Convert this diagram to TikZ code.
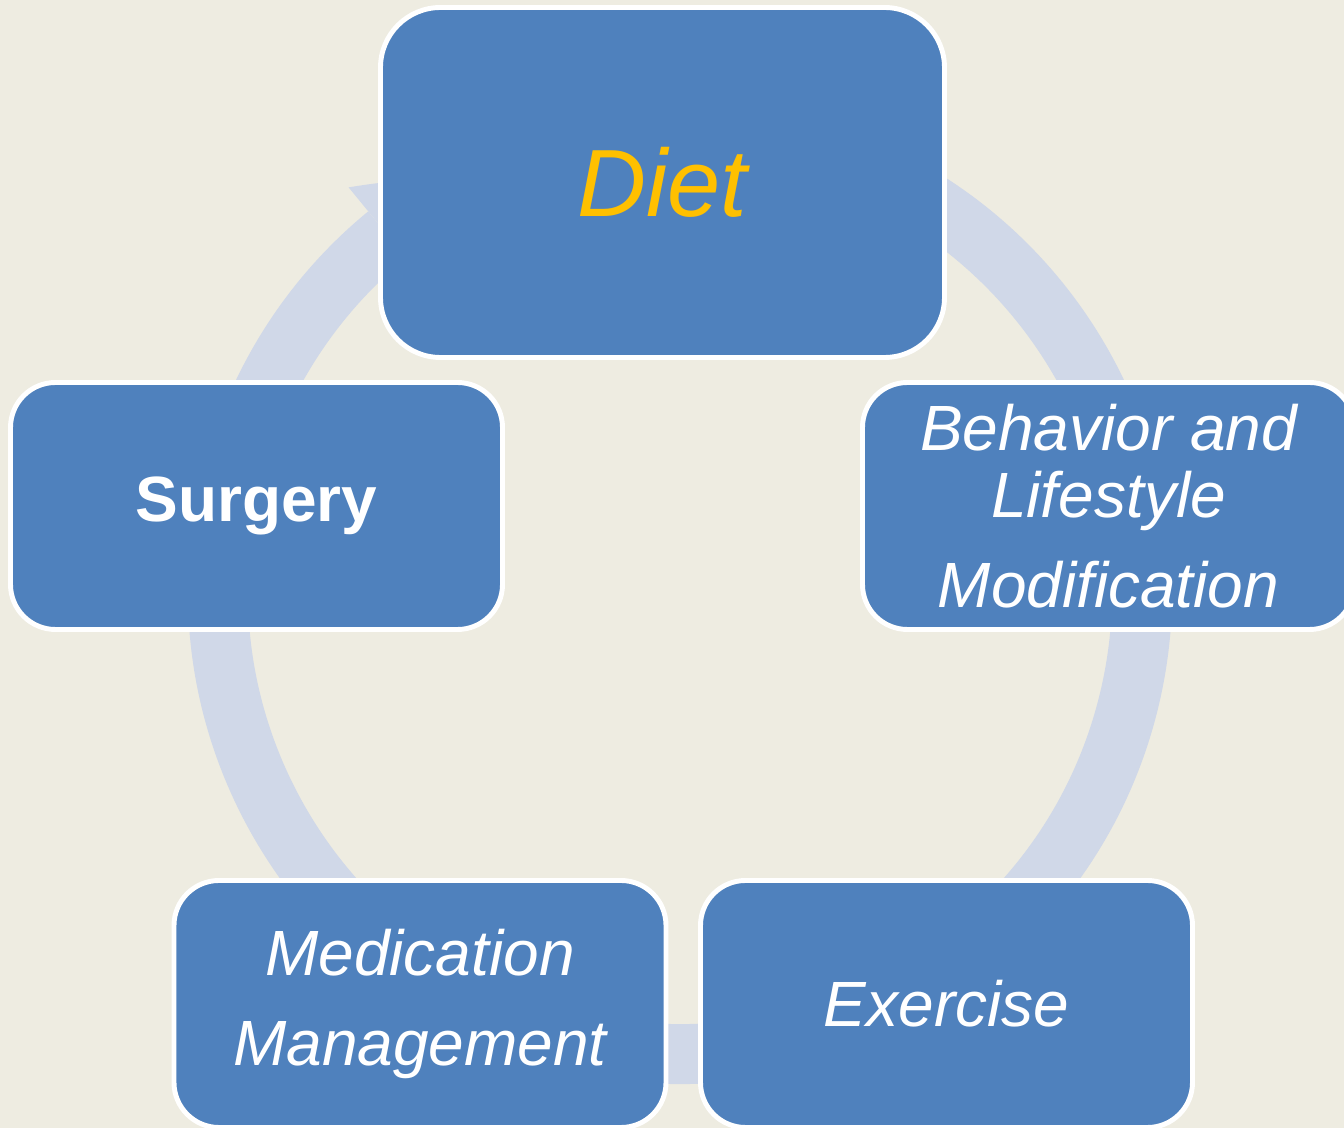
\documentclass[tikz,border=0pt]{standalone}
\usepackage{fontspec}
\setmainfont{Liberation Sans}
\usetikzlibrary{arrows.meta,bending}

\definecolor{paper}{HTML}{EEECE1}
\definecolor{stepblue}{HTML}{4F81BD}
\definecolor{ringblue}{HTML}{D0D8E8}
\definecolor{dietgold}{HTML}{FFC000}

\begin{document}
\begin{tikzpicture}[
    block/.style={draw=white, line width=1.4pt, fill=stepblue, rounded corners=0.45cm,
        minimum width=4.92cm, minimum height=2.47cm, align=center, text=white,
        font=\fontsize{18.2}{19}\selectfont\itshape},
    ring/.style={ringblue, line width=0.6cm}
]
    \def\ringRadius{4.62}

    \useasboundingbox (0,0) rectangle (13.44,11.28);
    \fill[paper] (0,0) rectangle (13.44,11.28);
    \clip (0,0) rectangle (13.44,11.28);

    % the cycle arrow, running clockwise back into the top box
    \coordinate (hub) at (6.8,5.36);
    \draw[ring, -{Triangle[width=1.22cm, length=1cm, line width=0pt, bend]}]
        (hub) ++(75:\ringRadius) arc[start angle=75, end angle=-243, radius=\ringRadius];

    \node[block, minimum width=5.64cm, minimum height=3.50cm, rounded corners=0.6cm,
        text=dietgold, font=\fontsize{27.2}{28}\selectfont\itshape] (diet) at (6.625,9.455) {Diet};
    \node[block] (behavior) at (11.085,6.22) {Behavior and\\Lifestyle\\[0.23cm]Modification};
    \node[block] (exercise) at (9.465,1.24) {Exercise};
    \node[block] (medication) at (4.20,1.24) {Medication\\[0.23cm]Management};
    \node[block, font=\fontsize{18.2}{19}\selectfont\bfseries] (surgery) at (2.565,6.22) {Surgery};
\end{tikzpicture}
\end{document}
